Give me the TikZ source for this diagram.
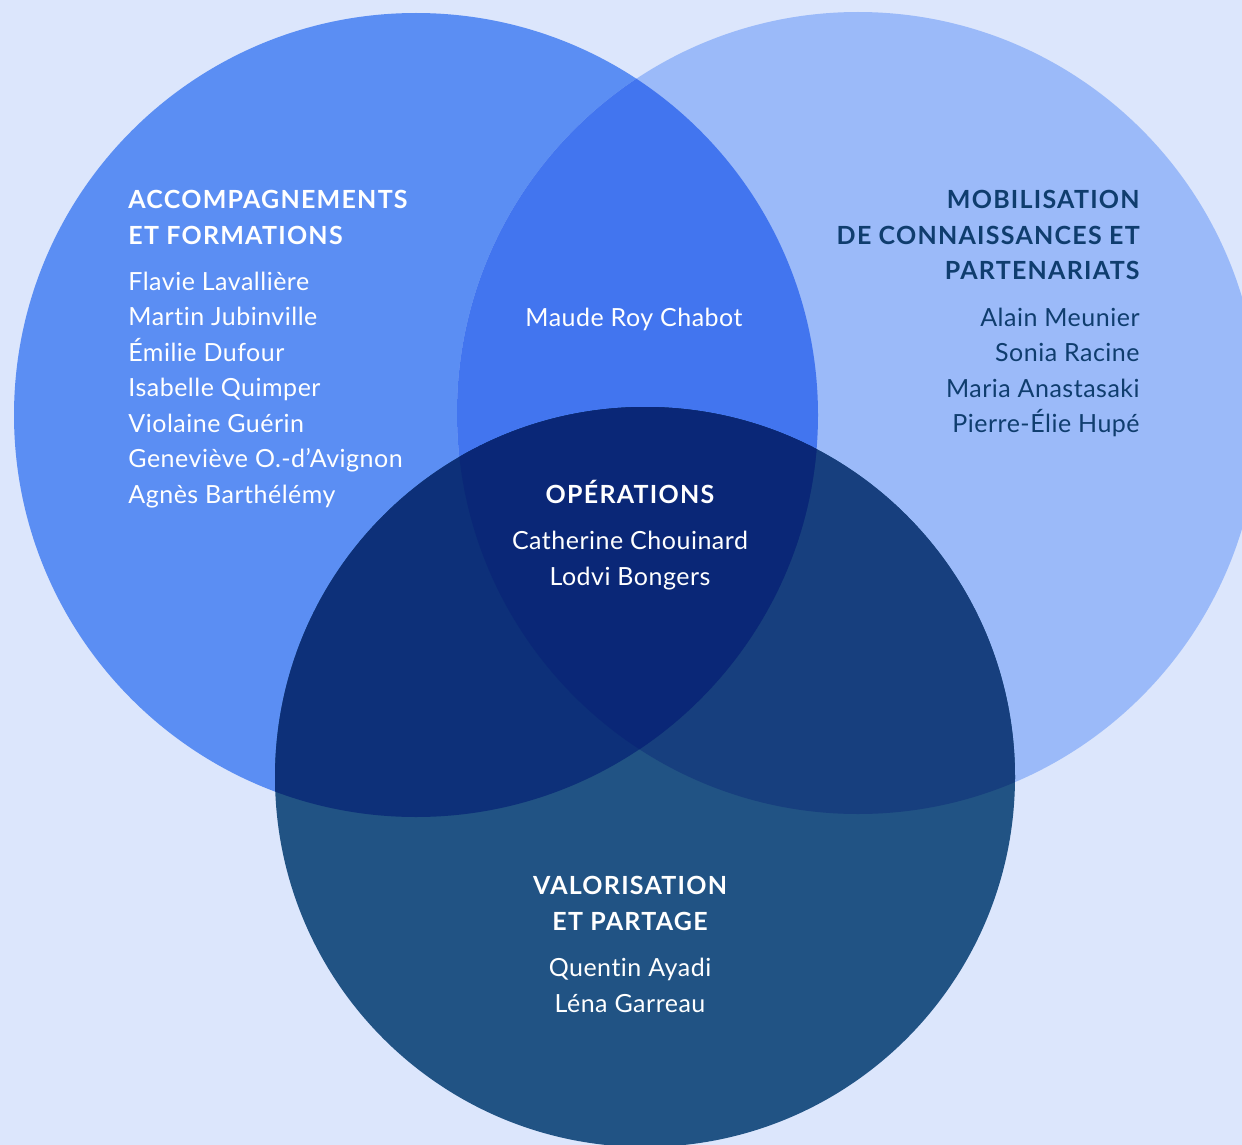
\documentclass[tikz,border=0pt]{standalone}
\usepackage{fontspec}
\setmainfont{Lato}[Ligatures={NoCommon}]
\newfontfamily\namefont[LetterSpace=2, Ligatures={NoCommon}]{Lato}
\newfontfamily\headfont[LetterSpace=5]{Lato}

\definecolor{fond}{HTML}{DCE6FC}
\definecolor{accA}{HTML}{5B8EF3}
\definecolor{mobB}{HTML}{9BBAF9}
\definecolor{valC}{HTML}{215384}
\definecolor{interAB}{HTML}{4275EF}
\definecolor{interAC}{HTML}{0D3079}
\definecolor{interBC}{HTML}{173F7E}
\definecolor{interABC}{HTML}{0A2777}
\definecolor{marine}{HTML}{0F3D6E}

\tikzset{
  person/.style={text=white, font=\namefont\fontsize{12.5}{15}\selectfont, inner sep=0pt},
  heading/.style={text=white, font=\headfont\bfseries\fontsize{12.5}{15}\selectfont, inner sep=0pt},
}

\begin{document}
\begin{tikzpicture}[x=0.5pt, y=-0.5pt]
    \useasboundingbox (0,0) rectangle (1242,1145);
    \clip (0,0) rectangle (1242,1145);
    \fill[fond] (0,0) rectangle (1242,1145);

    % circles
    \coordinate (cA) at (416,415);
    \coordinate (cB) at (858,413);
    \coordinate (cC) at (645,777);
    \fill[accA] (cA) circle (402);
    \fill[mobB] (cB) circle (401);
    \begin{scope}
        \clip (cA) circle (402);
        \fill[interAB] (cB) circle (401);
    \end{scope}
    \fill[valC] (cC) circle (370);
    \begin{scope}
        \clip (cC) circle (370);
        \fill[interBC] (cB) circle (401);
        \fill[interAC] (cA) circle (402);
        \clip (cA) circle (402);
        \fill[interABC] (cB) circle (401);
    \end{scope}

    % accompagnements
    \node[heading, anchor=base west] (accT1) at (128,208) {ACCOMPAGNEMENTS};
    \node[heading, anchor=base west] (accT2) at (128,244) {ET FORMATIONS};
    \foreach \t [count=\i] in {Flavie Lavallière, Martin Jubinville, Émilie Dufour,
        Isabelle Quimper, Violaine Guérin, Geneviève O.-d’Avignon, Agnès Barthélémy}
        \node[person, anchor=base west] (acc\i) at (128,{290+35.5*(\i-1)}) {\t};

    % mobilisation
    \node[heading, text=marine, anchor=base east] (mobT1) at (1140,208) {MOBILISATION};
    \node[heading, text=marine, anchor=base east] (mobT2) at (1140,244) {DE CONNAISSANCES ET};
    \node[heading, text=marine, anchor=base east] (mobT3) at (1140,279) {PARTENARIATS};
    \foreach \t [count=\i] in {Alain Meunier, Sonia Racine, Maria Anastasaki, Pierre-Élie Hupé}
        \node[person, text=marine, anchor=base east] (mob\i) at (1140,{326+35.5*(\i-1)}) {\t};

    % intersection
    \node[person, anchor=base] (maude) at (634,326) {Maude Roy Chabot};

    % operations
    \node[heading, anchor=base] (opT) at (630,503) {OPÉRATIONS};
    \node[person, anchor=base] (op1) at (630,549) {Catherine Chouinard};
    \node[person, anchor=base] (op2) at (630,585) {Lodvi Bongers};

    % valorisation
    \node[heading, anchor=base] (valT1) at (630,894) {VALORISATION};
    \node[heading, anchor=base] (valT2) at (630,930) {ET PARTAGE};
    \node[person, anchor=base] (val1) at (630,976) {Quentin Ayadi};
    \node[person, anchor=base] (val2) at (630,1012) {Léna Garreau};
\end{tikzpicture}
\end{document}
